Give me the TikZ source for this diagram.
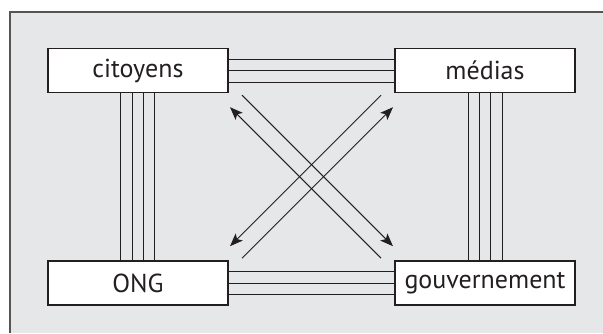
\documentclass[tikz,border=0pt]{standalone}
\usepackage{fontspec}
\setmainfont{PT Sans}
\usetikzlibrary{arrows.meta}
\definecolor{panel}{HTML}{E6E7E8}
\definecolor{frame}{HTML}{555555}
\definecolor{ink}{HTML}{231F20}
\begin{document}
\begin{tikzpicture}[x=1pt,y=-1pt,
  actor/.style={draw=ink,line width=1.2pt,fill=white,minimum width=180pt,
    minimum height=44pt,inner sep=0pt,font=\fontsize{26}{26}\selectfont,text=ink},
  link/.style={draw=ink,line width=1pt},
  flow/.style={draw=ink,line width=1pt,-{Stealth[length=13pt,width=10pt,inset=3pt]}}]
  \useasboundingbox (0,0) rectangle (603,333);
  % shaded panel, open on the right and at the bottom
  \fill[panel] (10,12) rectangle (603,333);
  \draw[frame,line width=1.5pt] (10,333) -- (10,12) -- (603,12);

  % the four actors
  \node[actor] (cit) at (137.9,70.7) {citoyens};
  \node[actor] (med) at (485,70.7) {médias};
  \node[actor] (ong) at (137.9,283) {ONG};
  \node[actor] (gov) at (485,283) {gouvernement};

  % triple horizontal ties
  \foreach \s in {-11.3,0,11.3}{
    \draw[link] ([yshift=\s pt]cit.east) -- ([yshift=\s pt]med.west);
    \draw[link] ([yshift=\s pt]ong.east) -- ([yshift=\s pt]gov.west);
  }
  % quadruple vertical ties
  \foreach \s in {-17,-5.7,5.7,17}{
    \draw[link] ([xshift=\s pt]cit.south) -- ([xshift=\s pt]ong.north);
    \draw[link] ([xshift=\s pt]med.south) -- ([xshift=\s pt]gov.north);
  }

  % crossing exchange arrows
  \coordinate (a0) at (381,258.2);  \coordinate (a1) at (230,107.2);
  \coordinate (b0) at (242,95.2);   \coordinate (b1) at (393,246.2);
  \coordinate (c0) at (381,95.2);   \coordinate (c1) at (230,246.2);
  \coordinate (d0) at (242,258.2);  \coordinate (d1) at (393,107.2);
  \draw[flow] (a0) -- (a1);
  \draw[flow] (b0) -- (b1);
  \draw[flow] (c0) -- (c1);
  \draw[flow] (d0) -- (d1);
\end{tikzpicture}
\end{document}
